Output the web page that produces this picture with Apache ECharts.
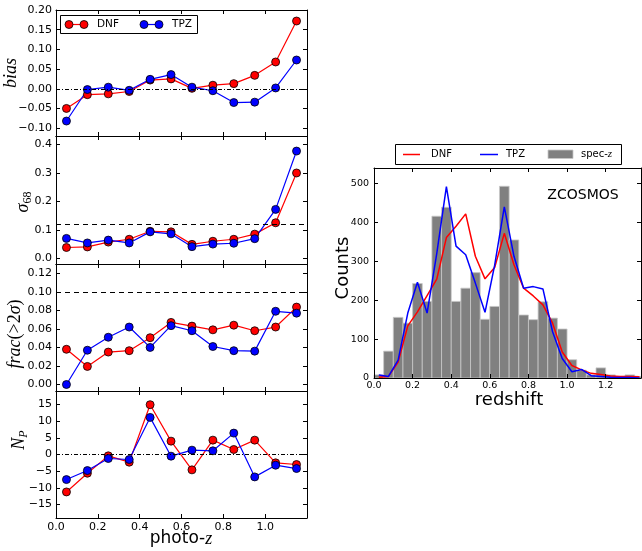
<!DOCTYPE html>
<html><head><meta charset="utf-8">
<script src="https://cdn.jsdelivr.net/npm/echarts@6/dist/echarts.min.js"></script>
<style>html,body{margin:0;padding:0;background:#fff}#c{width:642px;height:551px}</style>
</head><body><div id="c"></div>
<script>
// ---------- data ----------
const photoZ   = [0.05,0.15,0.25,0.35,0.45,0.55,0.65,0.75,0.85,0.95,1.05,1.15];
const biasDNF  = [-0.050,-0.015,-0.013,-0.007,0.022,0.025,0.001,0.009,0.013,0.034,0.068,0.172];
const biasTPZ  = [-0.082,-0.002,0.004,-0.004,0.024,0.036,0.004,-0.005,-0.035,-0.034,0.002,0.073];
const sigmaDNF = [0.038,0.040,0.057,0.067,0.095,0.093,0.049,0.060,0.067,0.085,0.125,0.300];
const sigmaTPZ = [0.070,0.054,0.064,0.054,0.093,0.086,0.041,0.050,0.053,0.069,0.172,0.377];
const fracDNF  = [0.038,0.0195,0.035,0.0365,0.0505,0.067,0.063,0.059,0.064,0.058,0.062,0.0835];
const fracTPZ  = [0.000,0.037,0.051,0.062,0.040,0.0635,0.058,0.041,0.0365,0.036,0.079,0.077];
const npDNF    = [-11.2,-5.6,-0.4,-2.3,14.9,4.0,-4.6,4.3,1.5,4.3,-2.5,-3.0];
const npTPZ    = [-7.5,-4.8,-1.2,-1.5,11.1,-0.5,1.3,1.1,6.4,-6.7,-3.2,-4.2];
const biasRef  = 0.0;
const sigmaRef = 0.12;
const fracRef  = 0.10;
const npRef    = 0;

const binStart   = [0.00,0.05,0.10,0.15,0.20,0.25,0.30,0.35,0.40,0.45,0.50,0.55,0.60,0.65,0.70,0.75,0.80,0.85,0.90,0.95,1.00,1.05,1.10,1.15,1.20,1.25,1.30,1.35];
const binEnd     = [0.05,0.10,0.15,0.20,0.25,0.30,0.35,0.40,0.45,0.50,0.55,0.60,0.65,0.70,0.75,0.80,0.85,0.90,0.95,1.00,1.05,1.10,1.15,1.20,1.25,1.30,1.35,1.40];
const specCounts = [8,69,156,141,243,197,416,439,197,231,271,151,184,493,355,162,150,196,154,126,47,20,8,26,8,4,8,4];
const nzZ   = [0.025,0.075,0.125,0.175,0.225,0.275,0.325,0.375,0.425,0.475,0.525,0.575,0.625,0.675,0.725,0.775,0.825,0.875,0.925,0.975,1.025,1.075,1.125,1.175,1.225,1.275,1.325,1.375];
const nzDNF = [2,4,41,134,170,212,254,361,390,422,313,255,284,372,291,231,211,188,141,67,32,21,12,9,5,4,4,3];
const nzTPZ = [8,4,46,167,246,167,320,492,339,317,244,169,290,440,313,231,235,229,119,50,16,22,6,4,2,1,1,0];

const leftXTicks = [0.0,0.2,0.4,0.6,0.8,1.0];
const biasTicks  = [-0.10,-0.05,0.00,0.05,0.10,0.15,0.20];
const sigmaTicks = [0.0,0.1,0.2,0.3,0.4];
const fracTicks  = [0.00,0.02,0.04,0.06,0.08,0.10,0.12];
const npTicks    = [-15,-10,-5,0,5,10,15];

// ---------- layout / style ----------
const RED = '#ff0000', BLUE = '#0000ff';
const SANS = 'DejaVu Sans';
const SERIF = 'Liberation Serif';
const minus = s => s.replace('-', '\u2212');

const leftGrids = [
  {left:56, width:251, top:10,  height:126, min:-0.12, max:0.20, ticks:biasTicks,  dec:2},
  {left:56, width:251, top:136, height:128, min:-0.02, max:0.43, ticks:sigmaTicks, dec:1},
  {left:56, width:251, top:264, height:127, min:-0.007,max:0.13, ticks:fracTicks,  dec:2},
  {left:56, width:251, top:391, height:127, min:-19,   max:19,   ticks:npTicks,    dec:0}
];
const rightGrid = {left:374, width:267, top:168, height:210};

const grids = [], xAxes = [], yAxes = [], series = [];
const tickStyle = {show:true, inside:true, length:4, lineStyle:{color:'#000', width:1}};
const lineStyleAx = {show:true, onZero:false, lineStyle:{color:'#000', width:1}};

leftGrids.forEach((g, i) => {
  grids.push({left:g.left, width:g.width, top:g.top, height:g.height, outerBoundsMode:'none', containLabel:false});
  const isBottom = i === 3;
  xAxes.push({type:'value', gridIndex:i, position:'bottom', min:0, max:1.2, z:3,
    axisLine:lineStyleAx, splitLine:{show:false},
    axisTick:Object.assign({customValues:leftXTicks}, tickStyle),
    axisLabel:{show:isBottom, customValues:leftXTicks, margin:4, fontSize:11, fontFamily:SANS, color:'#000',
      hideOverlap:false, formatter:v => v.toFixed(1)}});
  xAxes.push({type:'value', gridIndex:i, position:'top', min:0, max:1.2, z:3,
    axisLine:lineStyleAx, splitLine:{show:false},
    axisTick:Object.assign({customValues:leftXTicks}, tickStyle),
    axisLabel:{show:false}});
  yAxes.push({type:'value', gridIndex:i, position:'left', min:g.min, max:g.max, z:3,
    axisLine:lineStyleAx, splitLine:{show:false},
    axisTick:Object.assign({customValues:g.ticks}, tickStyle),
    axisLabel:{show:true, customValues:g.ticks, margin:4, fontSize:11, fontFamily:SANS, color:'#000',
      hideOverlap:false, showMinLabel:true, showMaxLabel:true, formatter:v => minus(v.toFixed(g.dec))}});
  yAxes.push({type:'value', gridIndex:i, position:'right', min:g.min, max:g.max, z:3,
    axisLine:lineStyleAx, splitLine:{show:false},
    axisTick:Object.assign({customValues:g.ticks}, tickStyle),
    axisLabel:{show:false}});
});

// right grid (index 4)
grids.push({left:rightGrid.left, width:rightGrid.width, top:rightGrid.top, height:rightGrid.height, outerBoundsMode:'none', containLabel:false});
xAxes.push({type:'value', gridIndex:4, position:'bottom', min:0, max:1.383, interval:0.2, z:3,
  axisLine:lineStyleAx, splitLine:{show:false}, axisTick:tickStyle,
  axisLabel:{show:true, margin:3, fontSize:9.5, fontFamily:SANS, color:'#000', hideOverlap:false,
    showMaxLabel:false, formatter:v => v.toFixed(1)}});
xAxes.push({type:'value', gridIndex:4, position:'top', min:0, max:1.383, interval:0.2, z:3,
  axisLine:lineStyleAx, splitLine:{show:false}, axisTick:tickStyle, axisLabel:{show:false}});
yAxes.push({type:'value', gridIndex:4, position:'left', min:0, max:540, interval:100, z:3,
  axisLine:lineStyleAx, splitLine:{show:false}, axisTick:tickStyle,
  axisLabel:{show:true, margin:5, fontSize:9.5, fontFamily:SANS, color:'#000', hideOverlap:false,
    showMaxLabel:false, formatter:v => String(v)}});
yAxes.push({type:'value', gridIndex:4, position:'right', min:0, max:540, interval:100, z:3,
  axisLine:lineStyleAx, splitLine:{show:false}, axisTick:tickStyle, axisLabel:{show:false}});

// left panel series
const panels = [
  [biasDNF, biasTPZ, biasRef, [4,2,1,2]],
  [sigmaDNF, sigmaTPZ, sigmaRef, [5,4]],
  [fracDNF, fracTPZ, fracRef, [5,4]],
  [npDNF, npTPZ, npRef, [4,2,1,2]]
];
panels.forEach((p, i) => {
  series.push({type:'line', name:'DNF', xAxisIndex:2*i, yAxisIndex:2*i, silent:true, animation:false,
    data: photoZ.map((x,k) => [x, p[0][k]]),
    symbol:'circle', symbolSize:8, showSymbol:true,
    lineStyle:{color:RED, width:1.2}, itemStyle:{color:RED, borderColor:'#000', borderWidth:0.8},
    markLine:{silent:true, animation:false, symbol:['none','none'], label:{show:false},
      lineStyle:{color:'#000', width:1, type:p[3]}, emphasis:{disabled:true},
      data:[{yAxis:p[2]}]}, z:2});
  series.push({type:'line', name:'TPZ', xAxisIndex:2*i, yAxisIndex:2*i, silent:true, animation:false,
    data: photoZ.map((x,k) => [x, p[1][k]]),
    symbol:'circle', symbolSize:8, showSymbol:true,
    lineStyle:{color:BLUE, width:1.2}, itemStyle:{color:BLUE, borderColor:'#000', borderWidth:0.8}, z:2});
});

// right panel: histogram + n(z) lines
series.push({type:'custom', name:'spec-z', xAxisIndex:8, yAxisIndex:8, silent:true, animation:false,
  data: binStart.map((b,k) => [b, binEnd[k], specCounts[k]]),
  encode:{x:[0,1], y:2},
  renderItem:(params, api) => {
    const p0 = api.coord([api.value(0), 0]);
    const p1 = api.coord([api.value(1), api.value(2)]);
    return {type:'rect', shape:{x:p0[0], y:p1[1], width:p1[0]-p0[0], height:p0[1]-p1[1]},
      style:{fill:'#808080', stroke:'#c8c8c8', lineWidth:0.8}};
  }, z:1});
series.push({type:'line', name:'DNF nz', xAxisIndex:8, yAxisIndex:8, silent:true, animation:false,
  data: nzZ.map((z,k) => [z, nzDNF[k]]), showSymbol:false, symbol:'none',
  lineStyle:{color:RED, width:1.5}, z:2});
series.push({type:'line', name:'TPZ nz', xAxisIndex:8, yAxisIndex:8, silent:true, animation:false,
  data: nzZ.map((z,k) => [z, nzTPZ[k]]), showSymbol:false, symbol:'none',
  lineStyle:{color:BLUE, width:1.5}, z:2});

// ---------- texts & legends ----------
const txt = (x, y, text, opts) => ({type:'text', x, y, rotation:opts.rot || 0, z:10, silent:true,
  style:Object.assign({text, fill:'#000', align:'center', verticalAlign:'middle',
    textAlign:'center', textVerticalAlign:'middle'}, opts.style)});
const R90 = Math.PI/2;
const mathRich = {
  i:{fontFamily:SERIF, fontStyle:'italic', fontSize:18, lineHeight:20, verticalAlign:'top'},
  r:{fontFamily:SERIF, fontSize:18, lineHeight:20, verticalAlign:'top'},
  s:{fontFamily:SERIF, fontStyle:'italic', fontSize:12, lineHeight:14, verticalAlign:'bottom', padding:[8,0,0,0]},
  su:{fontFamily:SERIF, fontSize:12, lineHeight:14, verticalAlign:'bottom', padding:[8,0,0,0]},
  sans:{fontFamily:SANS, fontSize:17, lineHeight:20, verticalAlign:'top'},
  zi:{fontFamily:SERIF, fontStyle:'italic', fontSize:18, lineHeight:20, verticalAlign:'top'}
};
const graphic = [
  txt(12, 73, '{i|bias}', {rot:R90, style:{rich:mathRich}}),
  txt(24, 202, '{i|σ}{su|68}', {rot:R90, style:{rich:mathRich}}),
  txt(16, 334, '{i|frac}{r|(>2}{i|σ}{r|)}', {rot:R90, style:{rich:mathRich}}),
  txt(20, 440, '{i|N}{s|P}', {rot:R90, style:{rich:mathRich}}),
  txt(181, 540, '{sans|photo-}{zi|z}', {style:{rich:mathRich}}),
  txt(343, 268, 'Counts', {rot:R90, style:{fontFamily:SANS, fontSize:18}}),
  txt(509, 400, 'redshift', {style:{fontFamily:SANS, fontSize:18}}),
  txt(583, 195, 'ZCOSMOS', {style:{fontFamily:SANS, fontSize:14}}),
  // left legend
  {type:'rect', shape:{x:60.5, y:15.5, width:137, height:18}, style:{fill:'#fff', stroke:'#000', lineWidth:1}, z:9, silent:true},
  {type:'line', shape:{x1:66, y1:24.5, x2:87, y2:24.5}, style:{stroke:RED, lineWidth:1.2}, z:10, silent:true},
  {type:'circle', shape:{cx:69, cy:24.5, r:4}, style:{fill:RED, stroke:'#000', lineWidth:0.8}, z:10, silent:true},
  {type:'circle', shape:{cx:84, cy:24.5, r:4}, style:{fill:RED, stroke:'#000', lineWidth:0.8}, z:10, silent:true},
  {type:'text', x:97, y:24.5, z:10, silent:true, style:{text:'DNF', fill:'#000', fontFamily:SANS, fontSize:10.5, align:'left', verticalAlign:'middle', textAlign:'left', textVerticalAlign:'middle'}},
  {type:'line', shape:{x1:141, y1:24.5, x2:162, y2:24.5}, style:{stroke:BLUE, lineWidth:1.2}, z:10, silent:true},
  {type:'circle', shape:{cx:144, cy:24.5, r:4}, style:{fill:BLUE, stroke:'#000', lineWidth:0.8}, z:10, silent:true},
  {type:'circle', shape:{cx:159, cy:24.5, r:4}, style:{fill:BLUE, stroke:'#000', lineWidth:0.8}, z:10, silent:true},
  {type:'text', x:172, y:24.5, z:10, silent:true, style:{text:'TPZ', fill:'#000', fontFamily:SANS, fontSize:10.5, align:'left', verticalAlign:'middle', textAlign:'left', textVerticalAlign:'middle'}},
  // right legend
  {type:'rect', shape:{x:395.5, y:144.5, width:226, height:20}, style:{fill:'#fff', stroke:'#000', lineWidth:1}, z:9, silent:true},
  {type:'line', shape:{x1:403, y1:154.5, x2:420, y2:154.5}, style:{stroke:RED, lineWidth:1.5}, z:10, silent:true},
  {type:'text', x:431, y:154.5, z:10, silent:true, style:{text:'DNF', fill:'#000', fontFamily:SANS, fontSize:10, align:'left', verticalAlign:'middle', textAlign:'left', textVerticalAlign:'middle'}},
  {type:'line', shape:{x1:480, y1:154.5, x2:498, y2:154.5}, style:{stroke:BLUE, lineWidth:1.5}, z:10, silent:true},
  {type:'text', x:506, y:154.5, z:10, silent:true, style:{text:'TPZ', fill:'#000', fontFamily:SANS, fontSize:10, align:'left', verticalAlign:'middle', textAlign:'left', textVerticalAlign:'middle'}},
  {type:'rect', shape:{x:548, y:150, width:25, height:8.5}, style:{fill:'#808080', stroke:'#c8c8c8', lineWidth:0.8}, z:10, silent:true},
  {type:'text', x:581, y:154.5, z:10, silent:true, style:{text:'{a|spec-}{b|z}', fill:'#000', align:'left', verticalAlign:'middle', textAlign:'left', textVerticalAlign:'middle',
    rich:{a:{fontFamily:SANS, fontSize:10}, b:{fontFamily:SERIF, fontStyle:'italic', fontSize:11}}}}
];

const chart = echarts.init(document.getElementById('c'), null, {renderer:'canvas'});
chart.setOption({
  animation:false,
  backgroundColor:'#fff',
  grid:grids, xAxis:xAxes, yAxis:yAxes, series, graphic
});
</script></body></html>
